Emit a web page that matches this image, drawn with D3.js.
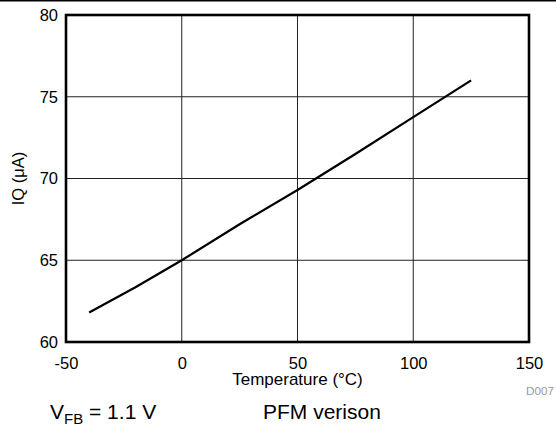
<!DOCTYPE html>
<html>
<head>
<meta charset="utf-8">
<script src="https://cdn.jsdelivr.net/npm/d3@7"></script>
<style>
  body { margin: 0; background: #fff; }
  text { font-family: Arial, "Liberation Sans", sans-serif; fill: #000; }
</style>
</head>
<body>
<div id="chart"></div>
<script>
var width = 556;
var height = 427;

// Temperature (°C) and quiescent current IQ (µA)
var temps = [-40, -20, 0, 25, 50, 75, 100, 125];
var iq = [61.8, 63.35, 65.0, 67.2, 69.3, 71.5, 73.75, 76.0];

var xTicks = [-50, 0, 50, 100, 150];
var yTicks = [60, 65, 70, 75, 80];

var margin = { top: 15, right: 27, bottom: 85, left: 66 };
var chart_width = width - margin.left - margin.right;
var chart_height = height - margin.top - margin.bottom;

var svg = d3.select("#chart")
	.append("svg")
	.attr("width", width)
	.attr("height", height);

// rule across the top of the figure
svg.append("line")
	.attr("x1", 0).attr("x2", width)
	.attr("y1", 0.7).attr("y2", 0.7)
	.style("stroke", "#000")
	.style("stroke-width", 1.4);

var g = svg.append("g")
	.attr("transform", "translate(" + margin.left + "," + margin.top + ")");

var x_scale = d3.scaleLinear().domain([-50, 150]).range([0, chart_width]);
var y_scale = d3.scaleLinear().domain([60, 80]).range([chart_height, 0]);

// grid
g.append("g").selectAll("line")
	.data(xTicks.slice(1, -1))
	.enter().append("line")
	.attr("x1", d => x_scale(d)).attr("x2", d => x_scale(d))
	.attr("y1", 0).attr("y2", chart_height)
	.style("stroke", "#222")
	.style("stroke-width", 1);

g.append("g").selectAll("line")
	.data(yTicks.slice(1, -1))
	.enter().append("line")
	.attr("x1", 0).attr("x2", chart_width)
	.attr("y1", d => y_scale(d)).attr("y2", d => y_scale(d))
	.style("stroke", "#222")
	.style("stroke-width", 1);

// axes (labels only, no tick marks)
var xAxis = d3.axisBottom(x_scale).tickValues(xTicks).tickSize(0).tickPadding(15).tickFormat(d => String(d));
var axis_bottom = g.append("g")
	.attr("transform", "translate(0," + chart_height + ")")
	.call(xAxis);
axis_bottom.select(".domain").remove();
axis_bottom.selectAll("text")
	.style("font-size", "16.5px")
	.style("font-family", "Arial, 'Liberation Sans', sans-serif")
	.attr("fill", "#000");

var yAxis = d3.axisLeft(y_scale).tickValues(yTicks).tickSize(0).tickPadding(8).tickFormat(d => String(d));
var axis_left = g.append("g").call(yAxis);
axis_left.select(".domain").remove();
axis_left.selectAll("text")
	.style("font-size", "16.5px")
	.style("font-family", "Arial, 'Liberation Sans', sans-serif")
	.attr("fill", "#000");

// data line
var line = d3.line()
	.x((d, i) => x_scale(temps[i]))
	.y(d => y_scale(d));

g.append("path")
	.datum(iq)
	.attr("d", line)
	.style("fill", "none")
	.style("stroke", "#000")
	.style("stroke-width", 2.2);

// frame
g.append("rect")
	.attr("x", 0).attr("y", 0)
	.attr("width", chart_width).attr("height", chart_height)
	.style("fill", "none")
	.style("stroke", "#000")
	.style("stroke-width", 2.6);

// axis titles
g.append("text")
	.attr("x", chart_width / 2)
	.attr("y", chart_height + 43)
	.attr("text-anchor", "middle")
	.style("font-size", "17px")
	.text("Temperature (\u00B0C)");

svg.append("text")
	.attr("transform", "translate(24," + (margin.top + chart_height / 2) + ") rotate(-90)")
	.attr("text-anchor", "middle")
	.style("font-size", "16.5px")
	.text("IQ (\u03BCA)");

svg.append("text")
	.attr("x", 554)
	.attr("y", 395)
	.attr("text-anchor", "end")
	.style("font-size", "11.7px")
	.style("fill", "#999")
	.text("D007");

// footer notes
var note = svg.append("text")
	.attr("x", 50)
	.attr("y", 419)
	.style("font-size", "21px");
note.append("tspan").text("V");
note.append("tspan").attr("dy", 5).style("font-size", "15px").text("FB");
note.append("tspan").attr("dy", -5).text(" = 1.1 V");

svg.append("text")
	.attr("x", 263)
	.attr("y", 419)
	.style("font-size", "21px")
	.text("PFM verison");
</script>
</body>
</html>
